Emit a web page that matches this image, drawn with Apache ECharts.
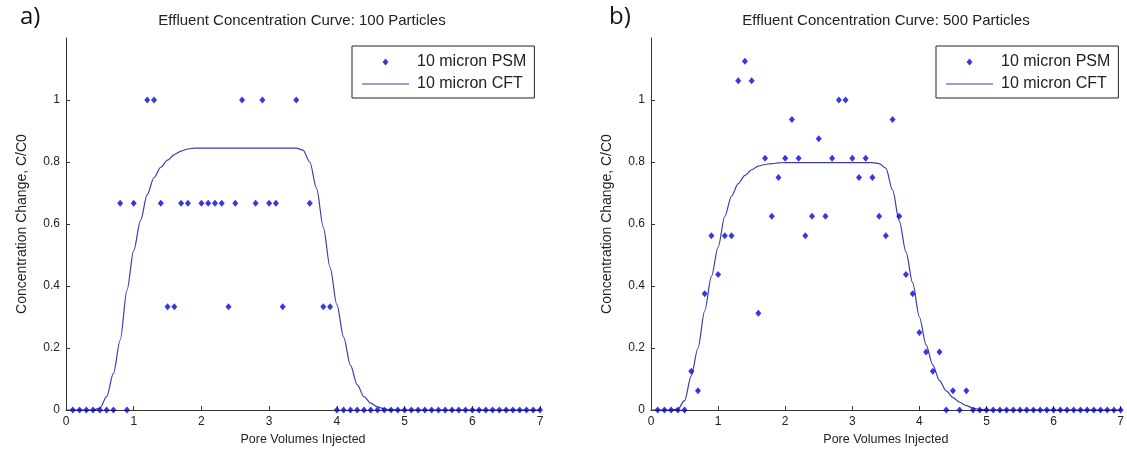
<!DOCTYPE html>
<html>
<head>
<meta charset="utf-8">
<script src="https://cdn.jsdelivr.net/npm/echarts@6/dist/echarts.min.js"></script>
<style>
html,body{margin:0;padding:0;background:#fff;}
#c{width:1127px;height:456px;}
</style>
</head>
<body>
<div id="c"></div>
<script>
// ---- data ----
const panelLetters = ['a)', 'b)'];
const chartTitles = ['Effluent Concentration Curve: 100 Particles', 'Effluent Concentration Curve: 500 Particles'];
const xAxisTitle = 'Pore Volumes Injected';
const yAxisTitle = 'Concentration Change, C/C0';
const seriesNames = ['10 micron PSM', '10 micron CFT'];

// sample times (pore volumes) of the PSM points
const psmX = [0.1,0.2,0.3,0.4,0.5,0.6,0.7,0.8,0.9,1.0,
  1.1,1.2,1.3,1.4,1.5,1.6,1.7,1.8,1.9,2.0,
  2.1,2.2,2.3,2.4,2.5,2.6,2.7,2.8,2.9,3.0,
  3.1,3.2,3.3,3.4,3.5,3.6,3.7,3.8,3.9,4.0,
  4.1,4.2,4.3,4.4,4.5,4.6,4.7,4.8,4.9,5.0,
  5.1,5.2,5.3,5.4,5.5,5.6,5.7,5.8,5.9,6.0,
  6.1,6.2,6.3,6.4,6.5,6.6,6.7,6.8,6.9,7.0];

// 100 particles PSM (null = not visible in the plot)
const psm100 = [0,0,0,0,0,0,0,0.667,0,0.667,
  null,1,1,0.667,0.333,0.333,0.667,0.667,null,0.667,
  0.667,0.667,0.667,0.333,0.667,1,null,0.667,1,0.667,
  0.667,0.333,null,1,null,0.667,null,0.333,0.333,0,
  0,0,0,0,0,0,0,0,0,0,
  0,0,0,0,0,0,0,0,0,0,
  0,0,0,0,0,0,0,0,0,0];

// 500 particles PSM
const psm500 = [0,0,0,0,0,0.125,0.0625,0.375,0.5625,0.4375,
  0.5625,0.5625,1.0625,1.125,1.0625,0.3125,0.8125,0.625,0.75,0.8125,
  0.9375,0.8125,0.5625,0.625,0.875,0.625,0.8125,1,1,0.8125,
  0.75,0.8125,0.75,0.625,0.5625,0.9375,0.625,0.4375,0.375,0.25,
  0.1875,0.125,0.1875,0,0.0625,0,0.0625,0,0,0,
  0,0,0,0,0,0,0,0,0,0,
  0,0,0,0,0,0,0,0,0,0];

// CFT curve sample points
const cftX = [0,0.1,0.2,0.3,0.4,0.5,0.6,0.7,0.8,0.9,1.0,
  1.1,1.2,1.3,1.4,1.5,1.6,1.7,1.8,1.9,2.0,
  2.1,2.2,2.3,2.4,2.5,2.6,2.7,2.8,2.9,3.0,3.1,3.2,3.3,
  3.4,3.5,3.6,3.7,3.8,3.9,4.0,4.1,4.2,4.3,4.4,4.5,4.6,4.7,4.8,4.9,5.0,
  7.0];
const cft100 = [0,0,0,0,0,0.006,0.043,0.118,0.225,0.386,0.514,
  0.611,0.695,0.75,0.783,0.806,0.824,0.835,0.842,0.845,0.845,
  0.845,0.845,0.845,0.845,0.845,0.845,0.845,0.845,0.845,0.845,0.845,0.845,0.845,
  0.845,0.838,0.80,0.715,0.59,0.46,0.34,0.235,0.145,0.082,0.043,0.022,0.01,0.004,0.001,0,0,
  0];
const cft500 = [0,0,0,0,0.003,0.03,0.11,0.20,0.32,0.43,0.525,
  0.625,0.69,0.73,0.757,0.775,0.787,0.792,0.795,0.797,0.798,
  0.798,0.798,0.798,0.798,0.798,0.798,0.798,0.798,0.798,0.798,0.798,0.798,0.798,
  0.795,0.78,0.71,0.61,0.51,0.41,0.30,0.21,0.145,0.095,0.062,0.04,0.025,0.014,0.006,0.002,0,
  0];

// ---- chart ----
const FONT = '"Liberation Sans", Arial, sans-serif';
const TXT = '#222';
const PT = '#0606d2';
const LN = '#3b3bb4';

// legend icons: path bounding box matches the 47x7 item box, so nothing is stretched
const ICON_DIAMOND = 'path://M0,0L0,0M47,7L47,7M20.5,3.5L23.5,0L26.5,3.5L23.5,7Z';
const ICON_LINE = 'path://M0,0L0,0M47,7L47,7M0,2.9L47,2.9L47,4.1L0,4.1Z';

function zip(xs, ys) { return xs.map((x, i) => [x, ys[i]]).filter(p => p[1] !== null); }

const grids = [
  {left: 66, right: 587, top: 38, bottom: 46},
  {left: 651, right: 5, top: 38, bottom: 46}
];

function xAxis(i) {
  return {
    type: 'value', gridIndex: i, min: 0, max: 7, interval: 1,
    name: xAxisTitle, nameLocation: 'middle', nameGap: 13,
    nameTextStyle: {fontFamily: FONT, fontSize: 12.5, color: TXT},
    axisLine: {lineStyle: {color: '#333', width: 1}},
    axisTick: {inside: true, length: 4, lineStyle: {color: '#333'}},
    axisLabel: {fontFamily: FONT, fontSize: 12, color: TXT, margin: 6},
    splitLine: {show: false}
  };
}
function yAxis(i) {
  return {
    type: 'value', gridIndex: i, min: 0, max: 1.2, interval: 0.2,
    name: yAxisTitle, nameLocation: 'middle', nameGap: 37, nameRotate: 90,
    nameTextStyle: {fontFamily: FONT, fontSize: 14, color: TXT},
    axisLine: {show: true, lineStyle: {color: '#333', width: 1}},
    axisTick: {show: true, inside: true, length: 4, lineStyle: {color: '#333'}},
    axisLabel: {fontFamily: FONT, fontSize: 12, color: TXT, margin: 6, showMaxLabel: false},
    splitLine: {show: false}
  };
}
function legend(left) {
  return {
    orient: 'vertical', left: left, top: 46,
    data: [{name: seriesNames[0], icon: ICON_DIAMOND}, {name: seriesNames[1], icon: ICON_LINE}],
    backgroundColor: '#fff', borderColor: '#222', borderWidth: 1, borderRadius: 0,
    padding: [8, 8, 6, 10], itemGap: 6, itemWidth: 47, itemHeight: 7,
    textStyle: {fontFamily: FONT, fontSize: 16, color: TXT, padding: [0, 0, 0, 3]},
    selectedMode: false
  };
}

const psmSets = [psm100, psm500];
const cftSets = [cft100, cft500];
const series = [];
[0, 1].forEach(i => {
  series.push({
    name: seriesNames[0], type: 'scatter', xAxisIndex: i, yAxisIndex: i,
    symbol: 'diamond', symbolSize: [6, 7],
    itemStyle: {color: PT},
    data: zip(psmX, psmSets[i]), z: 3
  });
  series.push({
    name: seriesNames[1], type: 'line', xAxisIndex: i, yAxisIndex: i,
    symbol: 'none', smooth: 0.3, smoothMonotone: 'x',
    lineStyle: {color: LN, width: 1.2}, itemStyle: {color: LN},
    data: zip(cftX, cftSets[i]), z: 2
  });
});

const chart = echarts.init(document.getElementById('c'), null, {renderer: 'canvas'});
chart.setOption({
  animation: false,
  backgroundColor: '#fff',
  grid: grids,
  xAxis: [xAxis(0), xAxis(1)],
  yAxis: [yAxis(0), yAxis(1)],
  legend: [legend(352), legend(936)],
  graphic: [
    {type: 'text', left: 20, top: 5, style: {text: panelLetters[0], fontFamily: '"Open Sans", sans-serif', fontSize: 24, fill: '#111'}},
    {type: 'text', left: 609, top: 5, style: {text: panelLetters[1], fontFamily: '"Open Sans", sans-serif', fontSize: 24, fill: '#111'}},
    {type: 'text', x: 302, y: 21, style: {text: chartTitles[0], fontFamily: FONT, fontSize: 15, fill: TXT, align: 'center', verticalAlign: 'middle'}},
    {type: 'text', x: 886, y: 21, style: {text: chartTitles[1], fontFamily: FONT, fontSize: 15, fill: TXT, align: 'center', verticalAlign: 'middle'}}
  ],
  series: series
});
</script>
</body>
</html>
